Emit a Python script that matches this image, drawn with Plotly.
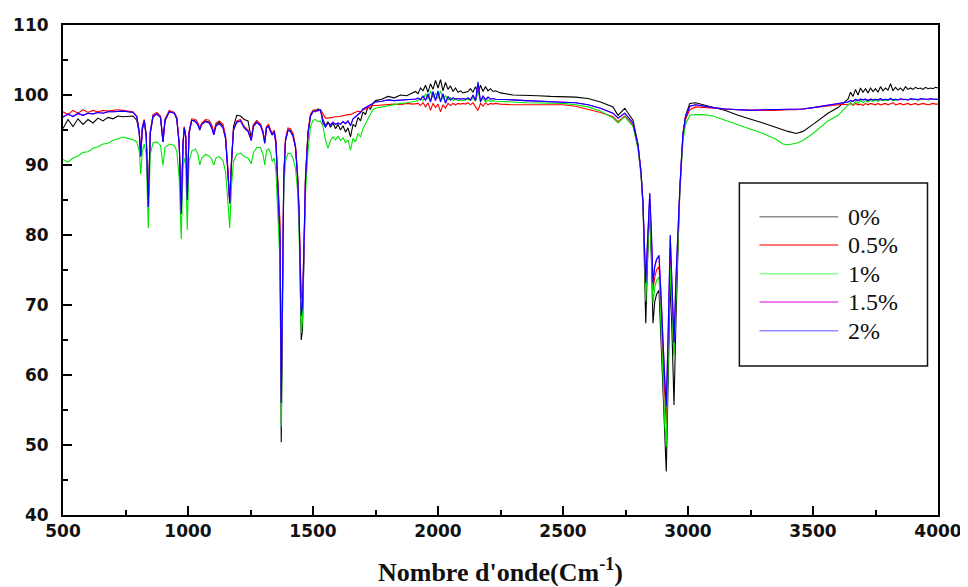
import plotly.graph_objects as go

# Wavenumber grid (cm-1)
wavenumber = [
    500, 520, 540, 560, 580, 600, 620, 640, 660, 680, 700, 720, 740, 760,
    780, 795, 805, 811, 817, 825, 833, 841, 849, 860,
    875, 890, 900, 908, 925, 945, 955, 965, 973, 980,
    985, 991, 997, 1004, 1015, 1030, 1040, 1047, 1055, 1070,
    1085, 1095, 1103, 1112, 1125, 1140, 1150, 1158, 1167, 1174,
    1182, 1195, 1210, 1225, 1240, 1253, 1262, 1275, 1290, 1300,
    1307, 1314, 1322, 1330, 1337, 1345, 1352, 1358, 1363, 1368,
    1373, 1378, 1383, 1390, 1400, 1410, 1420, 1430, 1438, 1444,
    1449, 1453, 1458, 1463, 1470, 1480, 1490, 1500, 1510, 1520,
    1530, 1540, 1550, 1560, 1570, 1580, 1590, 1600, 1610, 1620, 1630, 1640,
    1650, 1660, 1670, 1680, 1690, 1700, 1710, 1720, 1730, 1740, 1750,
    1775, 1800, 1825, 1850, 1875, 1900,
    1910, 1920, 1930, 1940, 1950, 1960, 1970, 1980, 1990, 2000, 2010, 2020,
    2030, 2040, 2050, 2060, 2070, 2080, 2090, 2100, 2110, 2120, 2130, 2140,
    2150, 2160, 2170, 2180, 2190, 2200, 2210, 2220, 2230, 2240, 2250,
    2300, 2350, 2400, 2450, 2500, 2550, 2600, 2650, 2700,
    2720, 2747, 2780, 2800, 2812, 2820, 2826, 2831, 2838, 2847,
    2854, 2860, 2867, 2874, 2884, 2892, 2900, 2907, 2913, 2920,
    2929, 2936, 2944, 2952, 2960, 2967, 2974, 2980, 2990, 3007,
    3030, 3060, 3100, 3150, 3200, 3250, 3300, 3350, 3380, 3400, 3433, 3460,
    3500, 3530, 3560, 3600, 3620,
    3640, 3650, 3660, 3670, 3680, 3690, 3700, 3710, 3720, 3730, 3740, 3750,
    3760, 3770, 3780, 3790, 3800, 3810, 3820, 3830, 3840, 3850, 3860, 3870,
    3880, 3890, 3900, 3910, 3920, 3930, 3940, 3950, 3960, 3970, 3980, 3990, 4000,
]

# Transmittance (%) for each loading
t_0 = [
    95.2, 96.5, 95.5, 96.6, 95.8, 96.5, 96.0, 96.7, 96.3, 96.8, 96.6, 97.0, 96.9, 97.0,
    97.0, 96.4, 94.5, 91.2, 95.0, 96.2, 94.0, 84.0, 94.5, 96.8,
    97.3, 96.8, 93.3, 96.3, 97.6, 97.5, 96.8, 93.0, 83.0, 93.0,
    95.3, 94.0, 85.0, 94.5, 96.4, 96.3, 95.8, 95.2, 95.9, 96.3,
    96.1, 95.5, 94.5, 95.8, 96.1, 95.6, 94.0, 90.0, 84.5, 90.5,
    95.5, 97.1, 97.0, 96.5, 96.3, 93.8, 95.8, 96.3, 95.8, 94.8,
    93.3, 95.5, 95.7, 95.0, 94.3, 94.7, 93.0, 88.0, 82.0, 78.0,
    50.4, 72.0, 88.0, 93.5, 95.0, 95.0, 94.3, 92.5, 88.5, 83.0,
    74.0, 65.0, 66.5, 75.0, 88.0, 94.5, 97.0, 97.8, 97.6, 98.0,
    97.8, 96.5, 95.6, 96.2, 95.4, 96.0, 95.2, 95.8, 95.0, 95.6, 94.7, 95.3,
    94.0, 95.8, 95.5, 96.8, 96.3, 97.6, 97.2, 98.3, 98.0, 98.8, 99.2,
    99.4, 99.8, 99.6, 100.0, 99.9, 100.3,
    100.5, 100.2, 101.0, 100.6, 101.4, 100.4, 101.6, 100.8, 102.1, 101.0, 102.2, 100.6,
    101.8, 100.8, 101.3, 100.5, 101.0, 100.4, 100.6, 100.3, 100.4, 100.5, 100.9, 100.4,
    101.2, 100.2, 101.4, 100.5, 101.2, 100.6, 100.9, 100.5, 100.6, 100.4, 100.3,
    100.0, 100.0, 99.9, 99.8, 99.8, 99.7, 99.5, 99.0, 98.3,
    97.1, 98.1, 96.4, 93.0, 89.0, 84.5, 76.0, 67.4, 76.0, 84.3,
    76.0, 67.4, 70.5, 71.5, 72.1, 65.0, 57.0, 50.0, 46.2, 58.0,
    73.7, 66.0, 55.7, 68.0, 80.0, 86.4, 91.0, 94.5, 97.0, 98.8,
    98.9, 98.6, 98.3, 97.8, 97.1, 96.6, 96.0, 95.4, 95.0, 94.8, 94.5, 94.8,
    95.8, 96.6, 97.4, 98.2, 98.8,
    99.4, 100.4, 99.8, 100.8, 100.0, 101.0, 100.4, 100.9, 100.3, 101.0, 100.5, 100.9,
    100.4, 101.2, 100.6, 101.0, 100.7, 101.6, 100.6, 101.1, 100.7, 101.0, 100.6, 101.2,
    100.8, 101.0, 100.8, 101.1, 100.9, 101.0, 100.8, 101.1, 100.9, 101.0, 100.9, 101.1, 101.0,
]

t_05 = [
    97.6, 97.2, 97.8, 97.4, 97.9, 97.5, 97.8, 97.6, 97.8, 97.7, 97.8, 97.9, 97.8, 97.7,
    97.6, 97.0, 94.8, 91.5, 95.4, 96.5, 94.3, 84.5, 94.8, 97.2,
    97.5, 97.0, 93.6, 96.6, 97.8, 97.5, 96.8, 93.0, 83.5, 93.2,
    95.5, 94.2, 85.5, 94.8, 96.6, 96.5, 96.0, 95.3, 96.0, 96.5,
    96.4, 95.7, 94.7, 96.0, 96.3, 95.8, 94.2, 90.2, 85.0, 90.5,
    95.0, 96.3, 96.5, 95.5, 95.0, 93.8, 95.8, 96.3, 95.8, 94.8,
    93.3, 95.5, 95.8, 95.0, 94.5, 95.0, 93.5, 88.8, 85.5, 82.0,
    56.0, 74.0, 88.5, 93.8, 95.3, 95.2, 94.5, 92.8, 89.0, 84.0,
    76.0, 71.0, 72.0, 77.0, 88.5, 94.8, 97.3, 97.8, 97.9, 97.7,
    97.9, 97.3, 96.7, 96.7, 96.8, 96.8, 96.9, 96.9, 97.0, 97.0, 97.1, 97.2,
    97.2, 97.4, 97.5, 97.7, 97.6, 97.9, 98.0, 98.2, 98.3, 98.5, 98.5,
    98.6, 98.7, 98.7, 98.6, 98.8, 98.7,
    98.7, 98.8, 98.5, 98.9, 98.3, 98.9, 97.8, 98.8, 98.2, 98.7, 97.6, 98.6,
    98.1, 98.8, 98.5, 98.8, 98.6, 98.8, 98.7, 98.8, 98.7, 98.9, 98.6, 98.9,
    98.3, 97.8, 98.8, 98.4, 98.9, 98.6, 98.8, 98.7, 98.8, 98.7, 98.7,
    98.6, 98.6, 98.6, 98.6, 98.6, 98.4, 98.0, 97.5, 96.9,
    96.2, 97.0, 95.7, 92.5, 88.8, 84.3, 78.0, 72.0, 78.0, 85.0,
    78.5, 72.0, 74.0, 75.0, 75.5, 70.0, 62.0, 56.0, 53.0, 63.0,
    78.0, 71.0, 63.0, 72.5, 81.0, 86.0, 90.5, 94.0, 96.5, 97.9,
    98.3, 98.2, 98.1, 98.0, 97.9, 97.8, 97.8, 97.8, 97.9, 97.9, 97.9, 98.0,
    98.2, 98.3, 98.4, 98.6, 98.7,
    98.6, 98.8, 98.5, 98.8, 98.6, 98.7, 98.5, 98.8, 98.6, 98.8, 98.7, 98.6,
    98.8, 98.6, 98.7, 98.8, 98.6, 98.7, 98.9, 98.6, 98.7, 98.8, 98.6, 98.7,
    98.8, 98.6, 98.7, 98.8, 98.6, 98.7, 98.8, 98.7, 98.6, 98.7, 98.8, 98.7, 98.7,
]

t_1 = [
    90.8, 90.4, 91.0, 91.3, 91.8, 91.9, 92.4, 92.6, 93.0, 93.1, 93.5, 93.7, 94.0, 93.8,
    93.6, 93.3, 92.0, 88.7, 91.8, 93.0, 91.5, 81.0, 91.5, 93.2,
    93.3, 92.8, 89.9, 92.5, 93.0, 92.8, 92.0, 88.0, 79.4, 89.5,
    91.0, 90.0, 80.7, 90.5, 92.0, 92.3, 91.5, 90.0, 91.0, 91.5,
    91.3, 90.8, 90.0, 91.0, 91.2, 90.6, 89.0, 85.5, 81.0, 87.0,
    90.5, 91.5, 91.7, 91.2, 91.0, 90.2, 91.8, 92.5, 92.5, 91.5,
    90.0, 92.0, 92.3, 91.8, 90.5, 91.0, 89.0, 84.0, 79.7, 76.0,
    52.6, 72.0, 86.5, 90.5, 91.7, 91.6, 91.0, 89.5, 86.5, 81.0,
    73.0, 66.0, 68.0, 75.0, 86.0, 92.0, 95.5, 96.4, 96.5, 96.2,
    96.3, 95.5, 93.5, 92.4, 93.5, 94.0, 93.6, 94.1, 93.5, 93.9, 93.2, 93.6,
    92.1, 93.8, 93.3, 94.5, 94.0, 95.2, 95.8, 96.6, 97.3, 97.9, 98.1,
    98.3, 98.4, 98.6, 98.8, 98.9, 99.0,
    99.1, 99.2, 99.5, 99.2, 100.2, 99.4, 100.6, 99.6, 100.3, 99.5, 100.6, 99.4,
    99.9, 99.3, 99.6, 99.2, 99.4, 99.2, 99.3, 99.2, 99.3, 99.4, 99.2, 99.6,
    99.1, 100.4, 99.2, 99.5, 99.0, 99.3, 99.1, 99.2, 99.1, 99.1, 99.0,
    99.0, 98.9, 98.9, 98.8, 98.8, 98.6, 98.3, 97.7, 96.7,
    96.0, 96.9, 95.5, 92.3, 88.5, 84.0, 77.0, 70.5, 77.0, 84.1,
    77.0, 70.3, 72.5, 73.5, 74.0, 68.0, 60.0, 53.0, 49.8, 61.0,
    75.7, 69.0, 62.6, 71.0, 80.0, 85.5, 90.0, 93.5, 95.8, 97.1,
    97.2, 97.2, 97.0, 96.4, 95.7, 95.1, 94.5, 93.7, 93.0, 92.9, 93.1, 93.5,
    94.5, 95.4, 96.3, 97.1, 97.8,
    98.4, 98.9, 98.6, 99.1, 98.8, 99.2, 98.9, 99.2, 99.0, 99.3, 99.1, 99.3,
    99.1, 99.3, 99.2, 99.3, 99.2, 99.4, 99.2, 99.3, 99.3, 99.4, 99.3, 99.4,
    99.3, 99.4, 99.3, 99.4, 99.3, 99.4, 99.4, 99.4, 99.3, 99.4, 99.4, 99.4, 99.4,
]

t_15 = [
    96.9, 97.2, 97.0, 97.3, 97.1, 97.4, 97.3, 97.5, 97.4, 97.6, 97.6, 97.7, 97.7, 97.6,
    97.5, 96.9, 94.7, 91.4, 95.2, 96.4, 94.2, 84.2, 94.6, 97.0,
    97.3, 96.8, 93.4, 96.4, 97.6, 97.4, 96.6, 92.9, 83.2, 93.0,
    95.3, 94.0, 85.2, 94.5, 96.4, 96.2, 95.7, 95.0, 95.8, 96.2,
    96.0, 95.3, 94.3, 95.6, 95.9, 95.3, 93.8, 89.8, 84.6, 90.3,
    95.0, 96.1, 96.3, 95.3, 94.8, 93.5, 95.5, 96.1, 95.6, 94.6,
    93.1, 95.3, 95.5, 94.8, 94.3, 94.8, 93.0, 88.0, 83.8, 80.5,
    56.5, 73.0, 88.0, 93.5, 95.0, 94.8, 94.1, 92.5, 88.5, 83.5,
    75.2, 69.0, 70.3, 76.0, 88.0, 94.5, 97.0, 97.6, 97.7, 97.8,
    97.9, 96.1, 95.5, 96.0, 95.8, 96.1, 95.8, 96.0, 95.9, 96.2, 95.9, 96.3,
    95.7, 96.6, 96.9, 97.3, 97.5, 98.0, 98.2, 98.5, 98.7, 98.9, 99.0,
    99.1, 99.3, 99.2, 99.3, 99.4, 99.4,
    99.4, 99.5, 99.3, 99.8, 99.3, 100.0, 99.1, 100.3, 99.2, 100.4, 99.1, 100.1,
    98.9, 99.7, 99.3, 99.6, 99.4, 99.5, 99.4, 99.5, 99.4, 99.6, 99.3, 99.9,
    99.2, 101.5, 99.1, 99.8, 99.3, 99.7, 99.4, 99.5, 99.4, 99.4, 99.3,
    99.3, 99.2, 99.1, 99.0, 99.0, 98.9, 98.6, 98.1, 97.4,
    96.7, 97.4, 96.0, 92.8, 89.0, 84.5, 79.0, 73.3, 79.0, 85.8,
    80.0, 73.3, 75.5, 76.5, 77.0, 72.0, 65.0, 59.0, 55.8, 65.0,
    79.8, 73.0, 64.8, 74.0, 82.0, 86.4, 91.0, 94.5, 96.8, 98.4,
    98.6, 98.4, 98.2, 98.0, 97.9, 97.8, 97.9, 97.9, 97.9, 98.0, 97.9, 98.0,
    98.2, 98.4, 98.5, 98.8, 98.9,
    99.0, 99.2, 99.1, 99.3, 99.2, 99.4, 99.3, 99.4, 99.2, 99.4, 99.3, 99.4,
    99.3, 99.4, 99.3, 99.4, 99.3, 99.5, 99.3, 99.4, 99.3, 99.4, 99.4, 99.4,
    99.3, 99.4, 99.4, 99.4, 99.3, 99.4, 99.4, 99.4, 99.4, 99.4, 99.4, 99.4, 99.4,
]

t_2 = [
    96.8, 97.3, 96.9, 97.4, 97.1, 97.4, 97.3, 97.5, 97.4, 97.6, 97.6, 97.7, 97.7, 97.6,
    97.5, 96.9, 94.7, 91.3, 95.2, 96.4, 94.2, 84.0, 94.6, 97.0,
    97.3, 96.8, 93.3, 96.4, 97.6, 97.4, 96.6, 92.8, 83.0, 93.0,
    95.3, 94.0, 85.0, 94.5, 96.4, 96.2, 95.7, 95.0, 95.8, 96.2,
    96.0, 95.3, 94.3, 95.6, 95.9, 95.3, 93.8, 89.8, 84.5, 90.3,
    95.0, 96.1, 96.3, 95.3, 94.8, 93.5, 95.5, 96.1, 95.6, 94.6,
    93.1, 95.3, 95.5, 94.8, 94.3, 94.8, 93.0, 88.0, 83.5, 80.0,
    56.0, 73.0, 88.0, 93.5, 95.0, 94.8, 94.1, 92.5, 88.5, 83.5,
    75.0, 68.5, 70.0, 76.0, 88.0, 94.5, 97.0, 97.6, 97.7, 97.8,
    97.9, 96.0, 95.4, 96.0, 95.7, 96.1, 95.8, 96.0, 95.8, 96.2, 95.9, 96.3,
    95.6, 96.6, 96.9, 97.3, 97.5, 98.0, 98.2, 98.5, 98.7, 98.9, 99.0,
    99.1, 99.3, 99.2, 99.3, 99.4, 99.4,
    99.4, 99.6, 99.3, 99.9, 99.2, 100.2, 99.0, 100.5, 99.2, 100.6, 99.0, 100.2,
    98.8, 99.8, 99.3, 99.6, 99.4, 99.5, 99.4, 99.5, 99.4, 99.6, 99.3, 100.0,
    99.2, 101.9, 99.0, 99.9, 99.3, 99.7, 99.4, 99.5, 99.4, 99.4, 99.3,
    99.3, 99.2, 99.1, 99.0, 99.0, 98.9, 98.6, 98.1, 97.4,
    96.7, 97.4, 96.0, 92.8, 89.0, 84.5, 79.0, 73.1, 79.0, 86.0,
    80.0, 73.1, 75.5, 76.5, 77.1, 72.0, 65.0, 59.0, 55.5, 65.0,
    80.0, 73.0, 64.6, 74.0, 82.0, 86.4, 91.0, 94.5, 96.8, 98.4,
    98.6, 98.4, 98.2, 98.0, 97.9, 97.8, 97.9, 97.9, 97.9, 98.0, 97.9, 98.0,
    98.2, 98.4, 98.5, 98.8, 98.9,
    99.0, 99.2, 99.1, 99.4, 99.2, 99.4, 99.3, 99.4, 99.2, 99.4, 99.3, 99.4,
    99.3, 99.5, 99.3, 99.4, 99.3, 99.5, 99.3, 99.4, 99.3, 99.5, 99.4, 99.4,
    99.3, 99.5, 99.4, 99.4, 99.3, 99.5, 99.4, 99.4, 99.4, 99.5, 99.4, 99.4, 99.4,
]

series_names = ["0%", "0.5%", "1%", "1.5%", "2%"]
series_values = [t_0, t_05, t_1, t_15, t_2]
line_colors = ["#000000", "#ff0000", "#00e600", "#ff00ff", "#0000ff"]
legend_colors = ["#8c8c8c", "#ff4a4a", "#8cff8c", "#ee55ee", "#9090ff"]

for vals in series_values:
    assert len(vals) == len(wavenumber), (len(vals), len(wavenumber))

fig = go.Figure()
for name, vals, col in zip(series_names, series_values, line_colors):
    fig.add_trace(go.Scatter(x=wavenumber, y=vals, mode="lines", name=name,
                             line=dict(color=col, width=1.1), showlegend=False))

# Hand-drawn legend box (as in the original figure)
box_x0, box_x1, box_y0, box_y1 = 0.7730, 0.9880, 0.3041, 0.6776
fig.add_shape(type="rect", xref="paper", yref="paper",
              x0=box_x0, x1=box_x1, y0=box_y0, y1=box_y1,
              line=dict(color="#111111", width=1.5), fillcolor="white", layer="above")
entry_y = [0.6088, 0.5510, 0.4925, 0.4347, 0.3761]
for name, col, yy in zip(series_names, legend_colors, entry_y):
    fig.add_shape(type="line", xref="paper", yref="paper",
                  x0=0.7960, x1=0.8860, y0=yy, y1=yy,
                  line=dict(color=col, width=1.5), layer="above")
    fig.add_annotation(xref="paper", yref="paper", x=0.8950, y=yy,
                       text=name, showarrow=False, xanchor="left", yanchor="middle",
                       font=dict(family="Liberation Serif", size=24, color="#111111"))

tick_font = dict(family="DejaVu Sans", size=17, color="#111111", weight="bold")

fig.update_layout(
    width=960, height=579,
    margin=dict(l=55, r=30, t=17, b=72, autoexpand=False),
    paper_bgcolor="white", plot_bgcolor="white",
    xaxis=dict(
        range=[500, 4000], dtick=500, tick0=500, automargin=False,
        showgrid=False, zeroline=False,
        showline=True, linecolor="black", linewidth=2, mirror=True,
        ticks="inside", ticklen=9, tickwidth=2, tickcolor="black",
        minor=dict(dtick=250, tick0=500, ticks="inside", ticklen=5, tickwidth=2, tickcolor="black"),
        tickfont=tick_font,
        title=dict(text="Nombre d'onde(Cm<sup>-1</sup>)", standoff=24,
                   font=dict(family="Liberation Serif", size=26, color="#111111", weight="bold")),
    ),
    yaxis=dict(
        range=[40, 110], dtick=10, tick0=40, automargin=False,
        showgrid=False, zeroline=False,
        showline=True, linecolor="black", linewidth=2, mirror=True,
        ticks="inside", ticklen=9, tickwidth=2, tickcolor="black",
        minor=dict(dtick=5, tick0=40, ticks="inside", ticklen=5, tickwidth=2, tickcolor="black"),
        tickfont=tick_font, ticklabelstandoff=9,
    ),
)

fig.write_html("out.html")
